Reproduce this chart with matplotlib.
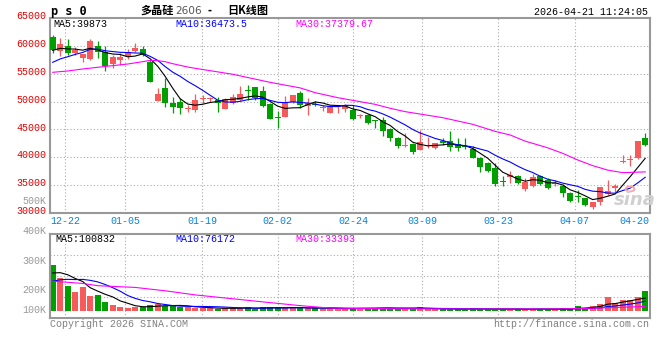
import numpy as np
import pandas as pd
import matplotlib
matplotlib.use("Agg")
import matplotlib.pyplot as plt

# daily bars 2025-12-18 .. 2026-04-21 (polysilicon 2606)
opens = [61590, 59020, 60030, 58660, 57880, 57640, 59910, 58960, 56680, 57460,
         58240, 59140, 59380, 57160, 50160, 52440, 49680, 49860, 48730, 48550,
         50400, 50460, 50340, 48730, 49740, 50340, 52080, 52620, 51960, 49560,
         47230, 47170, 49920, 51540, 49150, 49620, 48910, 48010, 49030, 48700,
         48490, 47410, 47590, 46570, 46690, 45080, 43400, 41970, 42330, 41310,
         42090, 41610, 42980, 42920, 42330, 41910, 41490, 39930, 38920, 38020,
         35800, 36400, 36640, 34310, 34910, 36640, 35920, 35270, 34910, 33530,
         32990, 32630, 31020, 31920, 33410, 34430, 39210, 39510, 39810, 43520]
highs = [62010, 61410, 61170, 59800, 58540, 61170, 60810, 59980, 58360, 58660,
         59380, 60450, 59980, 57460, 52380, 54230, 50880, 50640, 49330, 51360,
         51240, 50820, 50760, 50640, 51360, 52740, 53030, 52700, 52740, 49700,
         48250, 50940, 51120, 51960, 50640, 50040, 49330, 49270, 49330, 49600,
         49390, 47770, 47710, 46690, 47290, 45200, 43700, 44300, 42510, 44900,
         43700, 42560, 43400, 44780, 43400, 43400, 42090, 39990, 39210, 38920,
         36700, 37500, 36820, 36220, 36940, 36820, 36220, 35920, 35150, 33710,
         34130, 32750, 32040, 34730, 35920, 35150, 40410, 40410, 42920, 44300]
lows = [58720, 58240, 58360, 58360, 57040, 57460, 57820, 55550, 56030, 56560,
        57700, 58900, 58180, 53510, 50100, 48970, 48000, 47770, 48130, 48130,
        49740, 49900, 48130, 48730, 49560, 50040, 50340, 50340, 48970, 46800,
        45260, 47170, 49740, 48850, 47530, 49150, 48370, 47890, 48010, 48190,
        46690, 47110, 45920, 45320, 43880, 42920, 41610, 41910, 40530, 41310,
        41730, 41490, 42210, 41130, 41130, 41490, 39810, 37420, 37300, 34910,
        34910, 35450, 35150, 33950, 34730, 35030, 34310, 34910, 32930, 32040,
        32040, 31260, 30720, 31440, 33230, 33710, 38920, 38500, 39690, 42030]
closes = [59200, 60390, 58780, 59260, 58480, 60930, 58900, 56440, 57940, 58060,
          58840, 59560, 58360, 53570, 51360, 49740, 48970, 48850, 48850, 50340,
          50580, 50580, 49680, 50460, 50760, 51360, 51900, 50640, 49270, 46930,
          47110, 49920, 51120, 49440, 49740, 49440, 48970, 49150, 49150, 49300,
          46870, 47530, 46210, 46510, 44780, 43520, 42090, 42150, 41010, 42800,
          42210, 42510, 42620, 41910, 41610, 41790, 39930, 38320, 37540, 35210,
          35620, 36880, 35330, 35500, 36520, 35150, 34550, 35390, 33530, 32150,
          32870, 31440, 32040, 34730, 33950, 34910, 39330, 39690, 42920, 42210]
volumes = [367, 262, 198, 150, 190, 118, 126, 70, 46, 30,
           22, 30, 27, 46, 54, 38, 38, 32, 27, 19,
           20, 20, 14, 20, 20, 22, 25, 11, 25, 31,
           25, 22, 20, 25, 20, 18, 16, 18, 15, 14,
           18, 22, 22, 20, 22, 20, 15, 20, 18, 25,
           10, 9, 10, 18, 10, 9, 18, 10, 16, 12,
           10, 12, 12, 10, 12, 14, 12, 10, 18, 14,
           36, 24, 36, 55, 107, 59, 86, 86, 112, 160]  # thousand lots

# closes / volumes just before the window, needed for the first MA5 / MA10 points
pre_closes = [54300, 54800, 55100, 55000, 55250, 58600, 59300, 59400, 59480]
pre_volumes = [150, 160, 170, 175, 195, 250, 280, 300, 313]

# MA30 lines (candle index, value)
ma30_idx = [0, 2, 4, 6, 8, 10, 12, 13, 14, 15, 16, 18, 19, 24, 29, 33, 35, 38,
            43, 45, 47, 52, 56, 59, 61, 63, 66, 68, 70, 72, 74, 76, 79]
ma30_val = [55250, 55490, 55850, 56150, 56450, 56740, 57160, 57400, 57340, 57160,
            56800, 56200, 55970, 54900, 53450, 52450, 51600, 50700, 49500, 48790,
            48190, 47110, 45920, 44650, 44000, 42900, 41700, 40710, 39520, 38500,
            37700, 37240, 37380]
vma30_idx = [0, 4, 6, 11, 15, 19, 24, 28, 33, 37, 45, 55, 66, 70, 74, 79]
vma30_val = [236, 218, 200, 186, 159, 126, 95, 70, 40, 20, 15, 13, 13, 16, 23, 33.4]

date_labels = ["12-22", "01-05", "01-19", "02-02", "02-24", "03-09", "03-23", "04-07"]
date_ticks = [1.7, 9.7, 19.9, 30.0, 40.1, 49.3, 59.4, 69.6]
price_ticks = [30000, 35000, 40000, 45000, 50000, 55000, 60000, 65000]

RED = "#f65a5a"
GREEN = "#009f00"
GRID = "#aaaaaa"
MONO = "Liberation Mono"
CJK = ["Noto Sans CJK SC", "DejaVu Sans"]

o = np.array(opens, float)
h = np.array(highs, float)
l = np.array(lows, float)
c = np.array(closes, float)
v = np.array(volumes, float) * 1000
x = np.arange(len(c))
up = c >= o
cols = np.where(up, RED, GREEN)

close_all = pd.Series(pre_closes + closes, dtype=float)
ma5 = close_all.rolling(5).mean().to_numpy()[len(pre_closes):]
ma10 = close_all.rolling(10).mean().to_numpy()[len(pre_closes):]
vol_all = pd.Series(pre_volumes + volumes, dtype=float) * 1000
vma5 = vol_all.rolling(5).mean().to_numpy()[len(pre_volumes):]
vma10 = vol_all.rolling(10).mean().to_numpy()[len(pre_volumes):]

W, H = 660, 360
fig = plt.figure(figsize=(W / 100, H / 100), dpi=100)
fig.patch.set_facecolor("white")


def box(left, top, right, bottom):
    return [left / W, 1 - bottom / H, (right - left) / W, (bottom - top) / H]


def ftext(px, py, s, **kw):
    kw.setdefault("family", MONO)
    kw.setdefault("fontsize", 7.2)
    kw.setdefault("va", "center")
    fig.text(px / W, 1 - py / H, s, **kw)


ax = fig.add_axes(box(50, 18, 650, 213))
axv = fig.add_axes(box(50, 234, 650, 318))

for a in (ax, axv):
    a.set_xlim(-0.36, len(c) - 0.36)
    a.set_xticks([])
    a.set_yticks([])
    for sp in a.spines.values():
        sp.set_color("#999999")
        sp.set_linewidth(1.5)
    for t in date_ticks:
        a.axvline(t, color=GRID, lw=0.8, ls=(0, (1, 2)), zorder=0)

# price panel
ax.set_ylim(30000, 65000)
for p in price_ticks[1:-1]:
    ax.axhline(p, color=GRID, lw=0.8, ls=(0, (1, 2)), zorder=0)
ax.vlines(x, l, h, colors=cols, lw=0.9, zorder=2)
body = np.maximum(np.abs(c - o), 180)
ax.bar(x, body, bottom=np.minimum(o, c), width=0.8, color=cols, lw=0, zorder=3)
ax.plot(x, ma5, color="black", lw=0.8, zorder=4)
ax.plot(x, ma10, color="#0000ff", lw=0.8, zorder=4)
ax.plot(ma30_idx, ma30_val, color="#ff00ff", lw=0.8, zorder=4)

# volume panel
axv.set_ylim(-59400, 614800)
for f in (0.25, 0.5, 0.75):
    axv.plot([0, 1], [f, f], transform=axv.transAxes, color=GRID, lw=0.8,
             ls=(0, (1, 2)), zorder=0)
axv.bar(x, v, width=0.78, color=cols, lw=0, zorder=2)
axv.plot(x, vma5, color="black", lw=0.8, zorder=4)
axv.plot(x, vma10, color="#0000ff", lw=0.8, zorder=4)
axv.plot(vma30_idx, np.array(vma30_val) * 1000, color="#ff00ff", lw=0.8, zorder=4)

# axis labels
for p in price_ticks:
    py = 213 - (p - 30000) / 35000 * 195
    ftext(46.5, py - 1.8, str(p), ha="right", color="#e00000")
ftext(46.5, 200.5, "500K", ha="right", color="#999999")
for lab, py in zip(["400K", "300K", "200K", "100K"], [231, 260.5, 290, 310]):
    ftext(46.5, py, lab, ha="right", color="#999999")
for lab, t in zip(date_labels, date_ticks):
    ftext(52.7 + 7.5 * t, 220.5, lab, ha="center", color="#0a80dc")
ftext(649, 220.5, "04-20", ha="right", color="#0a80dc")

# headers and legends
ftext(51, 11, "p s 0", fontsize=8.6, weight="bold", color="black",
      family="DejaVu Sans Mono")
ftext(140, 10.5, "多晶硅", fontsize=8, weight="bold", color="black", family=CJK)
ftext(175, 11, "2606", fontsize=7.6, color="#555555", family="DejaVu Sans")
ftext(207, 10.5, "-", fontsize=8, weight="bold", color="black", family=CJK)
ftext(227, 10.5, "日K线图", fontsize=8, weight="bold", color="black", family=CJK)
ftext(648, 12, "2026-04-21 11:24:05", ha="right", color="black")
ftext(53, 24, "MA5:39873", color="black")
ftext(175, 24, "MA10:36473.5", color="#0000ff")
ftext(295, 24, "MA30:37379.67", color="#ff00ff")
ftext(55, 238.5, "MA5:100832", color="black")
ftext(175, 238.5, "MA10:76172", color="#0000ff")
ftext(295, 238.5, "MA30:33393", color="#ff00ff")
ftext(50, 324, "Copyright 2026 SINA.COM", color="#808080")
ftext(649, 324, "http://finance.sina.com.cn", ha="right", color="#808080")

# watermark
ftext(635, 200, "sina", ha="center", fontsize=13, style="italic", weight="bold",
      family="DejaVu Sans", color="#d0d0d0")
fig.patches.append(plt.Circle((630 / W, 1 - 189 / H), 4.5 / W, transform=fig.transFigure,
                              facecolor="none", edgecolor="#f3a8a8", lw=1.3))

fig.savefig("out.png", dpi=100)
